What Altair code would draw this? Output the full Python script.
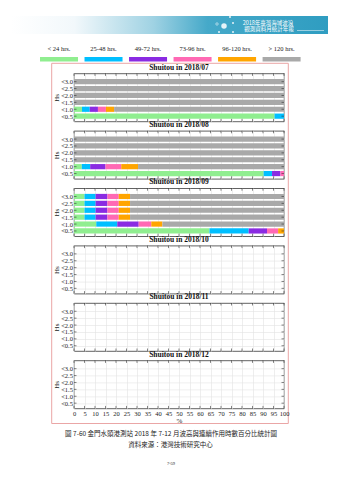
import altair as alt
import pandas as pd

# ---------------- data ----------------
cats = ["< 24 hrs.", "25-48 hrs.", "49-72 hrs.", "73-96 hrs.", "96-120 hrs.", "> 120 hrs."]
colors = ["#90EE90", "#00BFFF", "#8A2BE2", "#FF69B4", "#FFA500", "#A9A9A9"]
hs_levels = [3.0, 2.5, 2.0, 1.5, 1.0, 0.5]
x_ticks = [0, 5, 10, 15, 20, 25, 30, 35, 40, 45, 50, 55, 60, 65, 70, 75, 80, 85, 90, 95, 100]
station = "Shuitou"
months = ["2018/07", "2018/08", "2018/09", "2018/10", "2018/11", "2018/12"]

# percentage of each duration class, rows = Hs <3.0 ... <0.5
pct_07 = [
    [0, 0, 0, 0, 0, 100],
    [0, 0, 0, 0, 0, 100],
    [0, 0, 0, 0, 0, 100],
    [0, 0, 0, 0, 0, 100],
    [3.8, 3.7, 3.9, 3.8, 3.9, 80.9],
    [95.5, 4.5, 0, 0, 0, 0],
]
pct_08 = [
    [0, 0, 0, 0, 0, 100],
    [0, 0, 0, 0, 0, 100],
    [0, 0, 0, 0, 0, 100],
    [0, 0, 0, 0, 0, 100],
    [3.7, 4.0, 7.3, 7.5, 8.0, 69.5],
    [90.3, 4.0, 4.0, 1.7, 0, 0],
]
pct_09 = [
    [5.0, 5.3, 5.6, 5.4, 5.4, 73.3],
    [5.0, 5.3, 5.6, 5.4, 5.4, 73.3],
    [5.0, 5.3, 5.6, 5.4, 5.4, 73.3],
    [5.0, 5.3, 5.6, 5.4, 5.4, 73.3],
    [10.6, 10.0, 10.2, 6.0, 5.3, 57.9],
    [64.5, 18.7, 8.7, 5.3, 2.8, 0],
]
pct_10 = []
pct_11 = []
pct_12 = []
month_data = [pct_07, pct_08, pct_09, pct_10, pct_11, pct_12]

header_lines = ["2018年臺灣海域波浪", "觀測資料月統計年報"]
caption_lines = ["圖 7-60  金門水頭港測站 2018 年 7-12 月波高與連續作用時數百分比統計圖",
                 "資料來源：港灣技術研究中心"]
page_number = "7-59"

# ---------------- style ----------------
SERIF = "Liberation Serif"
CJK = "Noto Sans CJK TC"
W, H = 210, 48
SPACING = 9.4
HEADER_H = 62.1
TXT = "#222222"
# decorative bubbles of the banner: (x, y, size, filled)
BUBBLES = [(150, 25, 30, True), (143, 23, 6, False), (156, 16, 4, True),
           (159, 22, 4, True), (145, 31, 4, True), (159, 31, 4, True)]


def month_table(rows):
    recs = []
    for lvl, vals in zip(hs_levels, rows):
        start = 0.0
        for c, v in zip(cats, vals):
            if v > 0:
                recs.append({"hs": lvl, "cat": c, "x0": start, "x1": start + v})
            start += v
    return pd.DataFrame(recs, columns=["hs", "cat", "x0", "x1"])


tick_df = pd.DataFrame({"tick": x_ticks})
hs_df = pd.DataFrame({"hs": hs_levels})
xscale = alt.Scale(domain=[0, 100], nice=False, zero=False, padding=0)
yscale = alt.Scale(domain=[0.12, 3.6], nice=False, zero=False, padding=0)
color_scale = alt.Scale(domain=cats, range=colors)


def panel(month, rows, last):
    xaxis = alt.Axis(values=x_ticks, grid=True, gridColor="#e2e2e2", gridWidth=0.6,
                     ticks=False, domain=False, labels=last, labelFont=SERIF,
                     labelFontSize=6.5, labelPadding=2, labelColor=TXT,
                     labelOverlap=False, labelFlush=False,
                     title="%" if last else "", titleFont=SERIF, titleFontSize=7,
                     titleFontWeight="normal", titlePadding=0, titleColor=TXT)
    yaxis = alt.Axis(values=hs_levels, labelExpr="'<' + format(datum.value, '.1f')",
                     grid=True, gridColor="#e2e2e2", gridWidth=0.6, ticks=False,
                     domain=False, labelFont=SERIF, labelFontSize=6.5, labelPadding=1.5,
                     labelColor=TXT, labelOverlap=False, labelFlush=False,
                     title="Hs", titleFont=SERIF, titleFontSize=7,
                     titleFontWeight="normal", titlePadding=1, titleColor=TXT)
    layers = []
    tbl = month_table(rows)
    if len(tbl):
        layers.append(
            alt.Chart(tbl).mark_bar(orient="horizontal", size=5.2).encode(
                x=alt.X("x0:Q", scale=xscale, axis=xaxis),
                x2="x1:Q",
                y=alt.Y("hs:Q", scale=yscale, axis=yaxis),
                color=alt.Color("cat:N", scale=color_scale, legend=None),
            )
        )
    tick_top = alt.Chart(tick_df).mark_rule(color="#333333", strokeWidth=0.6).encode(
        x=alt.X("tick:Q", scale=xscale, axis=xaxis), y=alt.value(0), y2=alt.value(2.5))
    tick_bot = alt.Chart(tick_df).mark_rule(color="#333333", strokeWidth=0.6).encode(
        x=alt.X("tick:Q", scale=xscale, axis=xaxis), y=alt.value(H - 2.5), y2=alt.value(H))
    tick_l = alt.Chart(hs_df).mark_rule(color="#333333", strokeWidth=0.6).encode(
        y=alt.Y("hs:Q", scale=yscale, axis=yaxis), x=alt.value(0), x2=alt.value(2.5))
    tick_r = alt.Chart(hs_df).mark_rule(color="#333333", strokeWidth=0.6).encode(
        y=alt.Y("hs:Q", scale=yscale, axis=yaxis), x=alt.value(W - 2.5), x2=alt.value(W))
    layers += [tick_top, tick_bot, tick_l, tick_r]
    return alt.layer(*layers).properties(
        width=W, height=H,
        title=alt.TitleParams(text=f"{station} in {month}", font=SERIF, fontSize=7.5,
                              fontWeight="bold", offset=2, color="#111111"),
    )


# ---------------- header (banner + legend + frame) ----------------
leg_df = pd.DataFrame({"cat": cats})
band = alt.Scale(domain=cats, range=[-34, 226.6], paddingInner=0.146, paddingOuter=0)
one = pd.DataFrame({"a": [0]})

anchor = alt.Chart(one).mark_rule(opacity=0).encode(
    x=alt.value(-73), x2=alt.value(-72), y=alt.value(0))
banner = alt.Chart(one).mark_rect(
    fill=alt.LinearGradient(
        gradient="linear", x1=0, x2=1, y1=0, y2=0,
        stops=[alt.GradientStop(color="#ffffff", offset=0),
               alt.GradientStop(color="#f2f8fb", offset=0.2),
               alt.GradientStop(color="#9fd2e3", offset=0.45),
               alt.GradientStop(color="#45a9c9", offset=0.62),
               alt.GradientStop(color="#2f9dc1", offset=1)])
).encode(x=alt.value(-63), x2=alt.value(254), y=alt.value(15), y2=alt.value(33))
bubbles = [
    alt.Chart(one).mark_point(shape="circle", filled=f, size=s, color="#eef7fb",
                              strokeWidth=0.6, opacity=0.95).encode(
        x=alt.value(bx), y=alt.value(by))
    for bx, by, s, f in BUBBLES
]
ban_t1 = alt.Chart(pd.DataFrame({"t": [header_lines[0]]})).mark_text(
    font=CJK, fontSize=5.5, color="white", align="center", baseline="middle").encode(
    x=alt.value(194), y=alt.value(21.7), text="t:N")
ban_t2 = alt.Chart(pd.DataFrame({"t": [header_lines[1]]})).mark_text(
    font=CJK, fontSize=5.5, color="white", align="center", baseline="middle").encode(
    x=alt.value(195), y=alt.value(28.3), text="t:N")
ban_line = alt.Chart(one).mark_rule(color="white", strokeWidth=0.5).encode(
    x=alt.value(223), x2=alt.value(250), y=alt.value(29.5))
swatch = alt.Chart(leg_df).mark_rect().encode(
    x=alt.X("cat:N", scale=band, axis=None),
    y=alt.value(56), y2=alt.value(60.5),
    color=alt.Color("cat:N", scale=color_scale, legend=None))
leg_text = alt.Chart(leg_df).mark_text(font=SERIF, fontSize=6.5, color=TXT,
                                        baseline="middle").encode(
    x=alt.X("cat:N", scale=band, axis=None), y=alt.value(48.3), text="cat:N")
frame = alt.Chart(one).mark_rect(fillOpacity=0, stroke="#eaa6a6", strokeWidth=1).encode(
    x=alt.value(-22.3), x2=alt.value(214.3), y=alt.value(62.3), y2=alt.value(422.5))

header = alt.layer(anchor, banner, *bubbles, ban_line, ban_t1, ban_t2, frame, swatch,
                   leg_text).properties(
    width=W, height=HEADER_H, view=alt.ViewBackground(stroke="transparent"))

# ---------------- caption ----------------
cap1 = alt.Chart(pd.DataFrame({"t": [caption_lines[0]]})).mark_text(
    font=CJK, fontSize=6.5, color=TXT, align="center", baseline="middle").encode(
    x=alt.value(97), y=alt.value(16.6), text="t:N")
cap2 = alt.Chart(pd.DataFrame({"t": [caption_lines[1]]})).mark_text(
    font=CJK, fontSize=6.5, color=TXT, align="center", baseline="middle").encode(
    x=alt.value(96.5), y=alt.value(27.6), text="t:N")
pnum = alt.Chart(pd.DataFrame({"t": [page_number]})).mark_text(
    font=SERIF, fontSize=4.5, color=TXT, align="center", baseline="middle").encode(
    x=alt.value(97), y=alt.value(46.6), text="t:N")
caption = alt.layer(cap1, cap2, pnum).properties(
    width=W, height=50, view=alt.ViewBackground(stroke="transparent"))

panels = [panel(m, d, i == len(months) - 1) for i, (m, d) in enumerate(zip(months, month_data))]

chart = alt.vconcat(header, *panels, caption, spacing=SPACING, bounds="flush").properties(
    padding=0, background="white"
).configure_view(stroke="#3a3a3a", strokeWidth=0.8)

chart.save("out.html", embed_options={"renderer": "svg", "actions": False})
